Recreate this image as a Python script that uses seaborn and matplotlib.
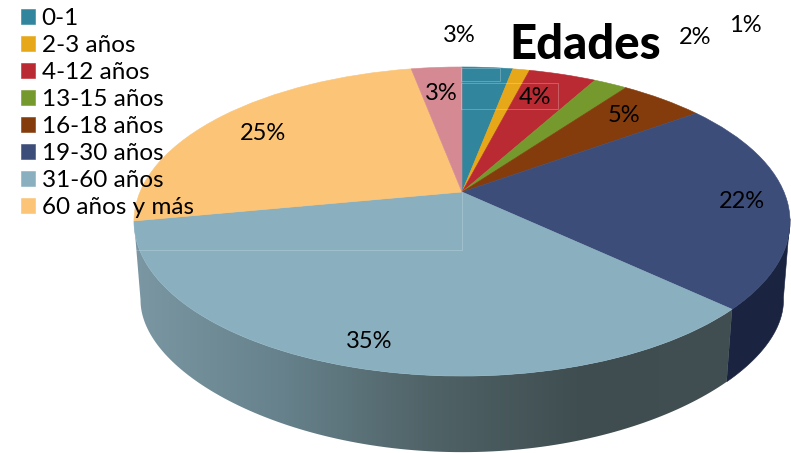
import numpy as np
import matplotlib
matplotlib.use("Agg")
import matplotlib.pyplot as plt
from matplotlib.patches import Polygon, Rectangle
from matplotlib.transforms import Transform
import seaborn as sns

sns.set_style("white")
plt.rcParams['font.family'] = ['Lato', 'DejaVu Sans']

# Data
age_groups = ['0-1', '2-3 años', '4-12 años', '13-15 años', '16-18 años',
              '19-30 años', '31-60 años', '60 años y más', '']
shares = [3, 1, 4, 2, 5, 22, 35, 25, 3]
slice_colors = ['#31859C', '#E6A718', '#B92A33', '#76992E', '#843C0C',
                '#3D4D79', '#8AB0C0', '#FBC477', '#D58A93']
label_pos = [(459, 36), (745, 25), (535, 97), (695, 37), (624, 115),
             (742, 201), (369, 341), (263, 133), (441, 94)]
side_colors = ['#7A97A3', '#66818B', '#4F6266', '#3F4D50', '#414F52']

# perspective of the pie disc, in image pixels
CX, CY = 462, 192
RX, RY = 322, 148.9
TILT = 0.191
LOWER_Y0, LOWER_RY, LOWER_TILT = 275, 124, 0.3
LOWER_SCALE = 0.98


def project(u, v):
    w = 1 + TILT * v
    return CX + RX * u / w, CY - RY * v / w


def project_lower(u, v):
    x, _ = project(u, v)
    return CX + LOWER_SCALE * (x - CX), LOWER_Y0 - LOWER_RY * v / (1 + LOWER_TILT * v)


class DiscPerspective(Transform):
    input_dims = output_dims = 2

    def transform_non_affine(self, values):
        x, y = project(values[:, 0], values[:, 1])
        return np.column_stack([x, y])


def side_polygon(start, end):
    t = np.radians(np.linspace(start, end, 120))
    top = np.column_stack(project(np.sin(t), np.cos(t)))
    bottom = np.column_stack(project_lower(np.sin(t), np.cos(t)))
    return np.vstack([top, bottom[::-1]])


fig = plt.figure(figsize=(7.91, 4.53), dpi=100)
ax = fig.add_axes([0, 0, 1, 1])

wedges, _ = ax.pie(shares, colors=sns.color_palette(slice_colors), startangle=90,
                   counterclock=False, radius=1)
for w in wedges:
    w.set_transform(DiscPerspective() + ax.transData)
    w.set_edgecolor(w.get_facecolor())
    w.set_linewidth(0.4)

# rim of the 3D pie
big = wedges[6]
rim = Polygon(side_polygon(90 - big.theta2, 90 - big.theta1), closed=True,
              transform=ax.transData, facecolor='none', edgecolor='none')
ax.add_patch(rim)
side_cmap = sns.blend_palette(side_colors, as_cmap=True)
grad = ax.imshow(np.linspace(0, 1, 256)[None, :], cmap=side_cmap, aspect='auto',
                 extent=(134, 735, 453, 200), zorder=0.5)
grad.set_clip_path(rim)

navy = wedges[5]
ax.add_patch(Polygon(side_polygon(100, 90 - navy.theta1), closed=True,
                     facecolor='#1A2340', edgecolor='#1A2340', lw=0.4, zorder=0.4))

# faint leftover boxes on the picture
for x0, y0, x1, y1 in [(461, 68, 500, 81), (461, 83, 558, 109)]:
    ax.add_patch(Rectangle((x0, y0), x1 - x0, y1 - y0, fill=False, lw=0.7,
                           edgecolor=(1, 1, 1, 0.25), zorder=2))
ax.plot([136, 462, 462], [250, 250, 192], lw=0.7, color=(1, 1, 1, 0.2), zorder=2)

ax.set_aspect('auto')
ax.set_xlim(0, 791)
ax.set_ylim(453, 0)
ax.axis('off')

for share, (x, y) in zip(shares, label_pos):
    ax.text(x, y, f'{share}%', ha='center', va='center', fontsize=17, color='black', zorder=3)

ax.text(585, 45, 'Edades', ha='center', va='center', fontsize=34, fontweight='black',
        color='black', zorder=3)

ax.legend(wedges[:8], age_groups[:8], loc='upper left', bbox_to_anchor=(0.0164, 1.0),
          frameon=False, fontsize=17.5, handlelength=0.58, handleheight=0.58,
          handletextpad=0.28, labelspacing=0.25, borderaxespad=0, borderpad=0.32,
          labelcolor='black')

fig.savefig('out.png', dpi=100)
